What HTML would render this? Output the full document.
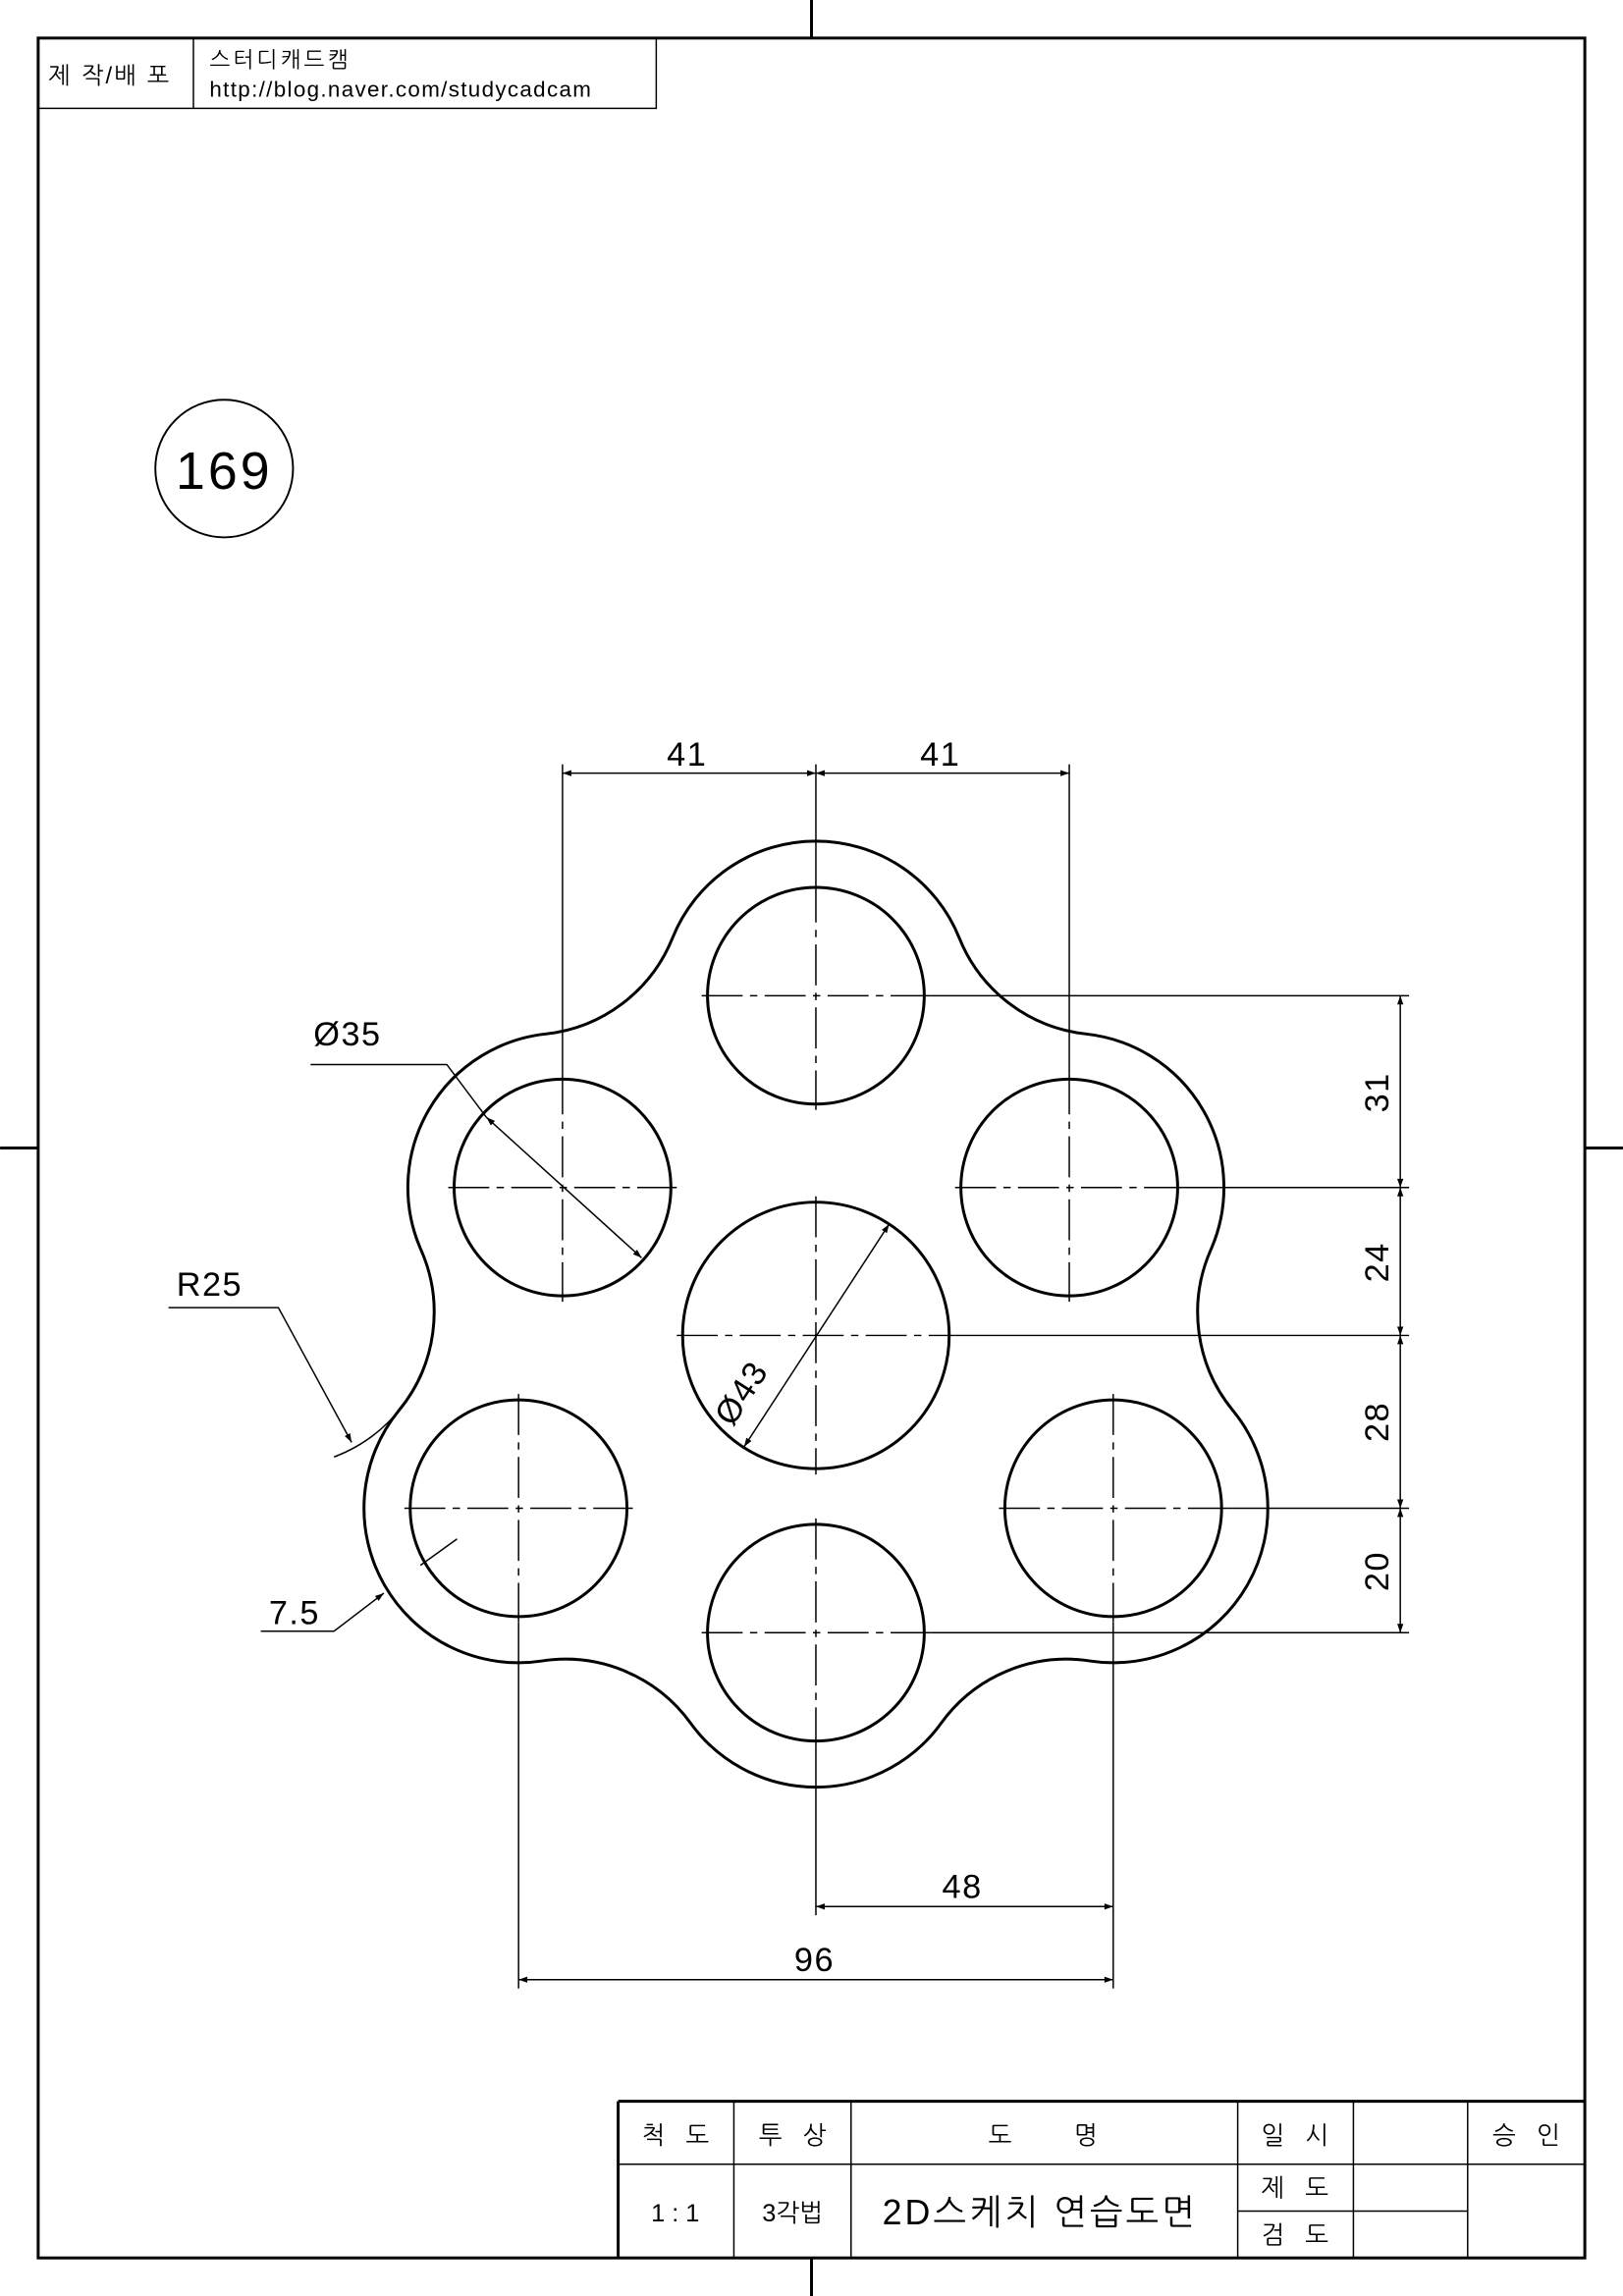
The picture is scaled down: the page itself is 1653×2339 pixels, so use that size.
<!DOCTYPE html>
<html><head><meta charset="utf-8"><style>
html,body{margin:0;padding:0;background:#fff}
svg{display:block}
text{font-family:"Liberation Sans","NanumGothic","Noto Sans CJK KR",sans-serif;fill:#000}
</style></head><body>
<svg width="1653" height="2339" viewBox="0 0 1108 1568" xmlns="http://www.w3.org/2000/svg">
<defs>
<marker id="a" viewBox="0 0 10 10" refX="10" refY="5" markerWidth="10" markerHeight="6" orient="auto-start-reverse" markerUnits="userSpaceOnUse"><path d="M0,1.5 L10,5 L0,8.5 z" fill="#000"/></marker>
</defs>
<g stroke="#000" fill="none">
<rect x="26" y="26" width="1056" height="1516" stroke-width="2"/>
<line x1="554" y1="0" x2="554" y2="26" stroke-width="2"/>
<line x1="554" y1="1542" x2="554" y2="1568" stroke-width="2"/>
<line x1="0" y1="784" x2="26" y2="784" stroke-width="2"/>
<line x1="1082" y1="784" x2="1108" y2="784" stroke-width="2"/>
<rect x="26" y="26" width="422" height="48" stroke-width="1"/>
<line x1="132" y1="26" x2="132" y2="74" stroke-width="1"/>
<circle cx="153" cy="320" r="47" stroke-width="1.3"/>

<path stroke-width="2" d="M459.1,640.6 A105.5,105.5 0 0 1 654.9,640.6 A105.5,105.5 0 0 0 741.4,706.1 A105.5,105.5 0 0 1 826.6,853.6 A105.5,105.5 0 0 0 841.6,963.1 A105.5,105.5 0 0 1 744,1134.3 A105.5,105.5 0 0 0 642.5,1176.8 A105.5,105.5 0 0 1 471.5,1176.8 A105.5,105.5 0 0 0 370,1134.3 A105.5,105.5 0 0 1 272.4,963.1 A105.5,105.5 0 0 0 287.4,853.6 A105.5,105.5 0 0 1 372.6,706.1 A105.5,105.5 0 0 0 459.1,640.6 Z"/>
<path stroke-width="1" d="M228,995 A105.5,105.5 0 0 0 272.4,963.1"/>

<g stroke-width="2">
<circle cx="557" cy="912" r="91"/>
<circle cx="557" cy="680" r="74"/>
<circle cx="384" cy="811" r="74"/>
<circle cx="730" cy="811" r="74"/>
<circle cx="354" cy="1030" r="74"/>
<circle cx="760" cy="1030" r="74"/>
<circle cx="557" cy="1115" r="74"/>
</g>

<g stroke-width="1" stroke-dasharray="28,5,5,5">
<line x1="462" y1="912" x2="652" y2="912"/><line x1="557" y1="817" x2="557" y2="1007"/>
<line x1="479" y1="680" x2="635" y2="680"/><line x1="557" y1="602" x2="557" y2="758"/>
<line x1="306" y1="811" x2="462" y2="811"/><line x1="384" y1="733" x2="384" y2="889"/>
<line x1="652" y1="811" x2="808" y2="811"/><line x1="730" y1="733" x2="730" y2="889"/>
<line x1="276" y1="1030" x2="432" y2="1030"/><line x1="354" y1="952" x2="354" y2="1108"/>
<line x1="682" y1="1030" x2="838" y2="1030"/><line x1="760" y1="952" x2="760" y2="1108"/>
<line x1="479" y1="1115" x2="635" y2="1115"/><line x1="557" y1="1037" x2="557" y2="1193"/>
</g>

<g stroke-width="1">
<line x1="384" y1="522" x2="384" y2="733"/>
<line x1="557" y1="522" x2="557" y2="602"/>
<line x1="730" y1="522" x2="730" y2="733"/>
<line x1="635" y1="680" x2="962" y2="680"/>
<line x1="808" y1="811" x2="962" y2="811"/>
<line x1="652" y1="912" x2="962" y2="912"/>
<line x1="838" y1="1030" x2="962" y2="1030"/>
<line x1="635" y1="1115" x2="962" y2="1115"/>
<line x1="354" y1="1108" x2="354" y2="1358"/>
<line x1="557" y1="1193" x2="557" y2="1308"/>
<line x1="760" y1="1108" x2="760" y2="1358"/>
</g>

<g stroke-width="1" marker-start="url(#a)" marker-end="url(#a)">
<line x1="384" y1="528" x2="557" y2="528"/>
<line x1="557" y1="528" x2="730" y2="528"/>
<line x1="956" y1="680" x2="956" y2="811"/>
<line x1="956" y1="811" x2="956" y2="912"/>
<line x1="956" y1="912" x2="956" y2="1030"/>
<line x1="956" y1="1030" x2="956" y2="1115"/>
<line x1="557" y1="1302" x2="760" y2="1302"/>
<line x1="354" y1="1352" x2="760" y2="1352"/>
<line x1="332" y1="763" x2="438" y2="859"/>
<line x1="508" y1="988" x2="607" y2="836"/>
</g>
<g stroke-width="1">
<polyline points="212,727 305,727 332,763"/>
<polyline points="115,893 190,893 240,985" marker-end="url(#a)"/>
<polyline points="178,1114 228,1114 262,1088" marker-end="url(#a)"/>
<line x1="312" y1="1051" x2="287" y2="1069"/>
</g>

<g stroke-width="2">
<line x1="422" y1="1435" x2="1082" y2="1435"/>
<line x1="422" y1="1435" x2="422" y2="1542"/>
</g>
<g stroke-width="1">
<line x1="422" y1="1478" x2="1082" y2="1478"/>
<line x1="845" y1="1510" x2="1002" y2="1510"/>
<line x1="501" y1="1435" x2="501" y2="1542"/>
<line x1="581" y1="1435" x2="581" y2="1542"/>
<line x1="845" y1="1435" x2="845" y2="1542"/>
<line x1="924" y1="1435" x2="924" y2="1542"/>
<line x1="1002" y1="1435" x2="1002" y2="1542"/>
</g>
</g>

<text x="33" y="57" font-size="16" letter-spacing="1.5">제 작/배 포</text>
<text x="143" y="46" font-size="15" letter-spacing="2">스터디캐드캠</text>
<text x="143" y="66" font-size="15" letter-spacing="0.9">http://blog.naver.com/studycadcam</text>
<text x="153" y="334" font-size="36" text-anchor="middle" letter-spacing="2">169</text>
<g font-size="23" text-anchor="middle" letter-spacing="1">
<text x="469" y="523">41</text>
<text x="642" y="523">41</text>
<text x="657" y="1296">48</text>
<text x="556" y="1346">96</text>
<text x="143" y="885">R25</text>
<text x="201" y="1109">7.5</text>
<text x="948" y="746" transform="rotate(-90 948 746)">31</text>
<text x="948" y="862" transform="rotate(-90 948 862)">24</text>
<text x="948" y="971" transform="rotate(-90 948 971)">28</text>
<text x="948" y="1073" transform="rotate(-90 948 1073)">20</text>
</g>
<text x="214" y="714" font-size="23" letter-spacing="1">Ø35</text>
<text x="0" y="0" font-size="23" letter-spacing="1" transform="translate(500,975) rotate(-57)">Ø43</text>
<g font-size="17" text-anchor="middle">
<text x="461" y="1464">척 &#160; 도</text>
<text x="541" y="1464">투 &#160; 상</text>
<text x="712" y="1464">도 &#160; &#160; &#160; &#160; 명</text>
<text x="884" y="1464">일 &#160; 시</text>
<text x="1042" y="1464">승 &#160; 인</text>
<text x="461" y="1517">1 : 1</text>
<text x="541" y="1517">3각법</text>
<text x="884" y="1500">제 &#160; 도</text>
<text x="884" y="1532">검 &#160; 도</text>
</g>
<text x="710" y="1519" font-size="24" text-anchor="middle" letter-spacing="2">2D스케치 연습도면</text>
</svg>
</body></html>
